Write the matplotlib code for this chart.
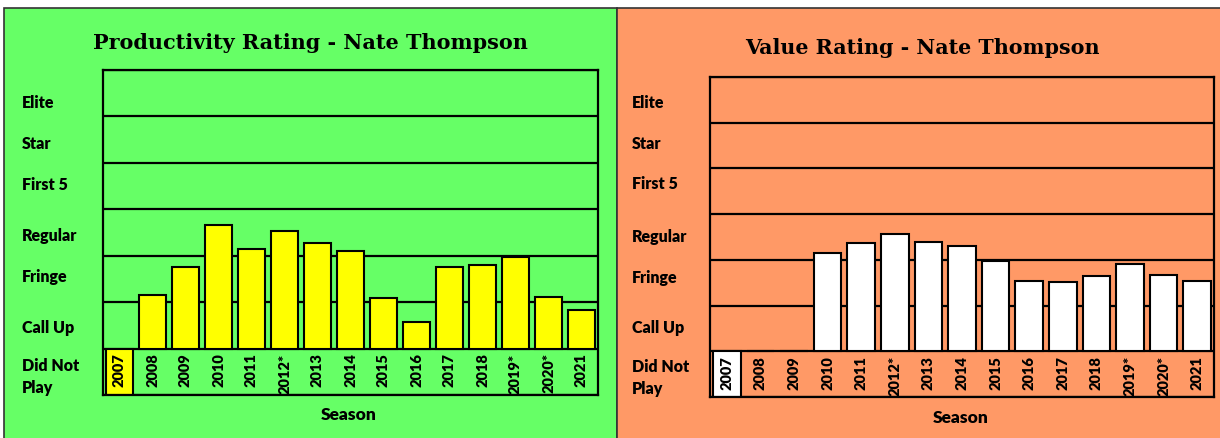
import matplotlib
matplotlib.use('Agg')
import matplotlib.pyplot as plt
from matplotlib.patches import Rectangle

# ---------------- data ----------------
seasons = ['2007', '2008', '2009', '2010', '2011', '2012*', '2013', '2014',
           '2015', '2016', '2017', '2018', '2019*', '2020*', '2021']
# rating scale: 0 = Did Not Play ... 7 = top of Elite ; baseline at 1
productivity = [0, 2.15, 2.76, 3.67, 3.14, 3.53, 3.28, 3.11,
                2.09, 1.57, 2.76, 2.81, 2.97, 2.11, 1.84]
value = [0, 1, 1, 3.15, 3.37, 3.57, 3.39, 3.31,
         2.97, 2.53, 2.51, 2.65, 2.90, 2.67, 2.53]
rating_labels = ['Elite', 'Star', 'First 5', 'Regular', 'Fringe', 'Call Up', 'Did Not\nPlay']
title_left = 'Productivity Rating - Nate Thompson'
title_right = 'Value Rating - Nate Thompson'
xlabel = 'Season'

# ---------------- layout ----------------
W, H = 1220, 439
fig = plt.figure(figsize=(W / 100, H / 100), dpi=100)


def fx(x):
    return x / W


def fy(y):
    return 1 - y / H


SANS = ['Lato', 'DejaVu Sans']
SERIF = ['DejaVu Serif']

panels = [
    dict(x0=4, x1=617, bg='#66FF66', bar='#FFFF00', vals=productivity,
         ax=(103, 71, 598, 396), title=title_left, tcx=310, tcy=43, tw=435,
         lab_x=22, lab_y=[103, 144, 185, 236, 277, 328, 377], season=(349, 415)),
    dict(x0=617, x1=1225, bg='#FF9966', bar='#FFFFFF', vals=value,
         ax=(710, 78, 1214, 398), title=title_right, tcx=922, tcy=48, tw=355,
         lab_x=632, lab_y=[103, 144, 184, 237, 278, 328, 378], season=(961, 418)),
]

titles = []
for p in panels:
    fig.add_artist(Rectangle((fx(p['x0']), -0.01), fx(p['x1']) - fx(p['x0']), fy(9) + 0.01,
                             transform=fig.transFigure, facecolor=p['bg'],
                             edgecolor='#333333', lw=1.2, zorder=0))
    l, t, r, b = p['ax']
    ax = fig.add_axes([fx(l), fy(b), (r - l) / W, (b - t) / H])
    ax.set_facecolor('none')
    ax.set_xlim(-0.5, len(seasons) - 0.5)
    ax.set_ylim(0, 7)
    for k in range(8):
        ax.axhline(k, color='black', lw=1.6, zorder=1)
    for s in ax.spines.values():
        s.set_linewidth(1.6)
        s.set_color('black')
        s.set_zorder(4)
    ax.set_xticks([])
    ax.set_yticks([])
    xs = range(len(seasons))
    ax.bar(xs, [v - 1 for v in p['vals']], bottom=1, width=0.82,
           color=p['bar'], edgecolor='black', lw=1.5, zorder=2)
    for i, s in enumerate(seasons):
        ax.text(i, 0.92, s, rotation=90, ha='center', va='top', fontsize=10.5,
                fontweight='heavy', family=SANS, zorder=3)
    for lab, py in zip(rating_labels, p['lab_y']):
        fig.text(fx(p['lab_x']), fy(py), lab, ha='left', va='center', fontsize=11.5,
                 fontweight='heavy', family=SANS, linespacing=1.5)
    fig.text(fx(p['season'][0]), fy(p['season'][1]), xlabel, ha='center', va='center',
             fontsize=12.5, fontweight='heavy', family=SANS)
    tt = fig.text(fx(p['tcx']), fy(p['tcy']), p['title'], ha='center', va='center',
                  fontsize=16, fontweight='bold', family=SERIF)
    titles.append((tt, p['tw']))

# fit title widths to the reference
fig.canvas.draw()
r = fig.canvas.get_renderer()
for tt, tw in titles:
    w = tt.get_window_extent(r).width
    tt.set_fontsize(tt.get_fontsize() * tw / w)

fig.savefig('out.png', dpi=100)
